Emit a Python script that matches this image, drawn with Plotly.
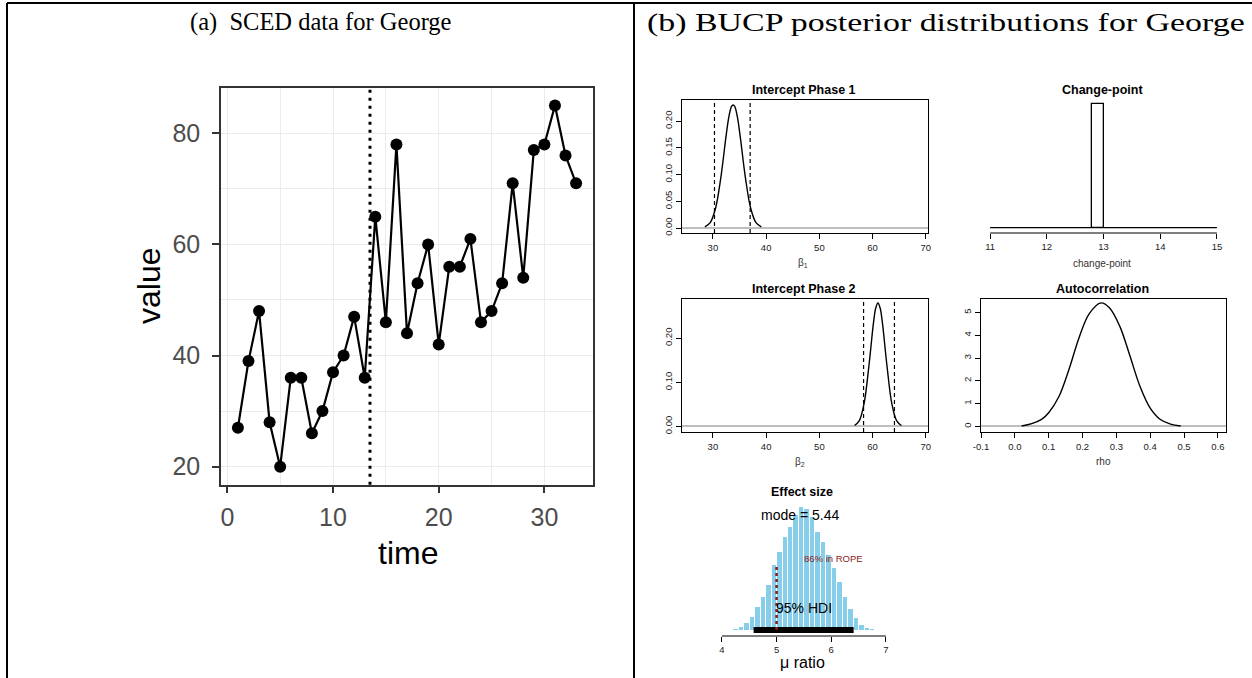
import plotly.graph_objects as go

W, H = 1252, 678

# ---------------- data ----------------
time = list(range(1, 34))
value = [27, 39, 48, 28, 20, 36, 36, 26, 30, 37, 40, 47, 36, 65, 46, 78, 44,
         53, 60, 42, 56, 56, 61, 46, 48, 53, 71, 54, 77, 78, 85, 76, 71]
phase_change = 13.5
a_xticks = [0, 10, 20, 30]
a_yticks = [20, 40, 60, 80]

b1_x = [28.5, 29.5, 30.5, 31.5, 32.5, 33.0, 33.5, 33.8, 34.1, 34.6, 35.1, 36.1, 37.1, 38.1, 39.1]
b1_d = [0.002, 0.010, 0.037, 0.095, 0.174, 0.208, 0.228, 0.2305, 0.228, 0.208, 0.174, 0.095, 0.037, 0.010, 0.002]
b1_hdi = [30.3, 37.0]

b2_x = [56.6, 57.5, 58.4, 59.3, 60.2, 60.6, 61.0, 61.4, 61.8, 62.7, 63.6, 64.5, 65.4]
b2_d = [0.002, 0.013, 0.052, 0.137, 0.239, 0.269, 0.280, 0.269, 0.239, 0.137, 0.052, 0.013, 0.002]
b2_hdi = [58.3, 64.1]
b_xticks = [30, 40, 50, 60, 70]
b1_yticks = [0.00, 0.05, 0.10, 0.15, 0.20]
b2_yticks = [0.00, 0.10, 0.20]

cp_center = [12.9]
cp_width = 0.2
cp_prob = [1.0]
cp_xticks = [11, 12, 13, 14, 15]

rho_x = [0.02, 0.05, 0.08, 0.10, 0.13, 0.16, 0.19, 0.22, 0.255, 0.28, 0.31, 0.34, 0.37, 0.40, 0.43, 0.46, 0.49]
rho_d = [0.02, 0.12, 0.32, 0.60, 1.30, 2.50, 3.90, 4.95, 5.42, 5.20, 4.40, 3.10, 1.75, 0.80, 0.30, 0.10, 0.02]
rho_xticks = [-0.1, 0.0, 0.1, 0.2, 0.3, 0.4, 0.5, 0.6]
rho_yticks = [0, 1, 2, 3, 4, 5]

es_mid = [4.25, 4.35, 4.45, 4.55, 4.65, 4.75, 4.85, 4.95, 5.05, 5.15, 5.25, 5.35, 5.45,
          5.55, 5.65, 5.75, 5.85, 5.95, 6.05, 6.15, 6.25, 6.35, 6.45, 6.55, 6.65, 6.75]
es_dens = [0.005, 0.024, 0.053, 0.096, 0.169, 0.241, 0.326, 0.470, 0.566, 0.671, 0.747, 0.832, 0.888,
           0.873, 0.820, 0.711, 0.639, 0.543, 0.446, 0.349, 0.241, 0.150, 0.085, 0.036, 0.017, 0.005]
es_mode = 5.44
es_hdi = [4.58, 6.41]
rope_lim = 5.0
rope_pct = 86
es_xticks = [4, 5, 6, 7]

# ---------------- helpers ----------------
def dx(a, b):
    return [a / W, b / W]

def dy(top, bottom):
    return [1 - bottom / H, 1 - top / H]

SANS = "Liberation Sans, Arial, sans-serif"
SERIF = "Liberation Serif, Times New Roman, serif"

fig = go.Figure()

# ---- (a) SCED data ----
fig.add_trace(go.Scatter(x=time, y=value, mode="lines+markers",
                         line=dict(color="black", width=2.2),
                         marker=dict(color="black", size=12),
                         xaxis="x", yaxis="y", showlegend=False))

# ---- (b) intercept phase 1 ----
fig.add_trace(go.Scatter(x=b1_x, y=b1_d, mode="lines", line=dict(color="black", width=1.4, shape="spline"),
                         xaxis="x2", yaxis="y2", showlegend=False))
# ---- change-point ----
fig.add_trace(go.Bar(x=cp_center, y=cp_prob, width=cp_width,
                     marker=dict(color="white", line=dict(color="black", width=1.3)),
                     xaxis="x3", yaxis="y3", showlegend=False))
fig.add_trace(go.Scatter(x=[cp_xticks[0], cp_xticks[-1]], y=[0, 0], mode="lines",
                         line=dict(color="black", width=1.3),
                         xaxis="x3", yaxis="y3", showlegend=False))
# ---- intercept phase 2 ----
fig.add_trace(go.Scatter(x=b2_x, y=b2_d, mode="lines", line=dict(color="black", width=1.4, shape="spline"),
                         xaxis="x4", yaxis="y4", showlegend=False))
# ---- autocorrelation ----
fig.add_trace(go.Scatter(x=rho_x, y=rho_d, mode="lines", line=dict(color="black", width=1.4, shape="spline"),
                         xaxis="x5", yaxis="y5", showlegend=False))
# ---- effect size ----
fig.add_trace(go.Bar(x=es_mid, y=es_dens, width=0.082, marker=dict(color="#87CEEB", line=dict(width=0)),
                     xaxis="x6", yaxis="y6", showlegend=False))
fig.add_trace(go.Scatter(x=es_hdi, y=[0, 0], mode="lines", line=dict(color="black", width=6),
                         xaxis="x6", yaxis="y6", showlegend=False))
fig.add_trace(go.Scatter(x=[rope_lim, rope_lim], y=[0, 0.47], mode="lines",
                         line=dict(color="#8B1A1A", width=2.5, dash="3px,3px"),
                         xaxis="x6", yaxis="y6", showlegend=False))

# ---------------- axes ----------------
gg_tick = dict(size=25, color="#4D4D4D", family=SANS)
layout = dict(
    width=W, height=H, margin=dict(l=0, r=0, t=0, b=0, autoexpand=False),
    paper_bgcolor="white", plot_bgcolor="white",
    font=dict(family=SANS),
    bargap=0, barmode="overlay",
    xaxis=dict(domain=dx(221, 593), range=[-0.6, 34.6], tickvals=a_xticks, ticks="outside",
               ticklen=7, tickwidth=1.5, tickcolor="#333333", tickfont=gg_tick, ticklabelstandoff=3,
               showline=True, mirror=True, linecolor="#333333", linewidth=1.5,
               showgrid=True, gridcolor="#EBEBEB", gridwidth=1.2,
               minor=dict(tickvals=[5, 15, 25], showgrid=True, gridcolor="#EBEBEB", gridwidth=0.6, ticks=""),
               zeroline=False, anchor="y", automargin=False),
    yaxis=dict(domain=dy(87.5, 484.7), range=[16.75, 88.25], tickvals=a_yticks, ticks="outside",
               ticklen=7, tickwidth=1.5, tickcolor="#333333", tickfont=gg_tick, ticklabelstandoff=7,
               showline=True, mirror=True, linecolor="#333333", linewidth=1.5,
               showgrid=True, gridcolor="#EBEBEB", gridwidth=1.2,
               minor=dict(tickvals=[30, 50, 70], showgrid=True, gridcolor="#EBEBEB", gridwidth=0.6, ticks=""),
               zeroline=False, anchor="x", automargin=False),
)

r_tick = dict(size=9.5, color="#222222", family=SANS)

def r_axis(domain, rng, tickvals, ticktext, anchor, box=True, **kw):
    d = dict(domain=domain, range=rng, tickvals=tickvals, ticktext=ticktext, ticks="outside",
             ticklen=5, tickwidth=1, tickcolor="black", tickfont=r_tick,
             showline=box, mirror=box, linecolor="black", linewidth=1.2,
             showgrid=False, zeroline=False, anchor=anchor, automargin=False)
    d.update(kw)
    return d

xt_b = [str(v) for v in b_xticks]
COL1 = dx(682, 928)
COL2 = dx(981, 1226)
layout["xaxis2"] = r_axis(COL1, [24.2, 70.4], b_xticks, xt_b, "y2")
layout["yaxis2"] = r_axis(dy(100, 233), [-0.0093, 0.2398], b1_yticks, [f"{v:.2f}" for v in b1_yticks], "x2",
                          tickangle=-90, zeroline=True, zerolinecolor="#BEBEBE", zerolinewidth=1.5)
layout["xaxis3"] = r_axis(COL2, [10.84, 15.16], cp_xticks, [str(v) for v in cp_xticks], "y3", box=False)
layout["yaxis3"] = dict(domain=dy(100, 233), range=[-0.043, 1.032], visible=False, anchor="x3")
layout["xaxis4"] = r_axis(COL1, [24.2, 70.4], b_xticks, xt_b, "y4")
layout["yaxis4"] = r_axis(dy(299, 432), [-0.0127, 0.289], b2_yticks, [f"{v:.2f}" for v in b2_yticks], "x4",
                          tickangle=-90, zeroline=True, zerolinecolor="#BEBEBE", zerolinewidth=1.5)
layout["xaxis5"] = r_axis(COL2, [-0.1, 0.624], rho_xticks, [f"{v:.1f}" for v in rho_xticks], "y5")
layout["yaxis5"] = r_axis(dy(299, 432), [-0.246, 5.59], rho_yticks, [str(v) for v in rho_yticks], "x5",
                          tickangle=-90, zeroline=True, zerolinecolor="#BEBEBE", zerolinewidth=1.5)
layout["xaxis6"] = r_axis(COL1, [3.27, 7.77], es_xticks, [str(v) for v in es_xticks], "y6", box=False)
layout["yaxis6"] = dict(domain=dy(490, 636), range=[-0.0434, 1.0127], visible=False, anchor="x6")

# ---------------- shapes ----------------
shapes = []
# table borders
for (x0, y0, x1, y1) in [(7, 3, W, 3), (7, 3, 7, H), (634, 3, 634, H)]:
    shapes.append(dict(type="line", xref="paper", yref="paper", x0=x0 / W, x1=x1 / W,
                       y0=1 - y0 / H, y1=1 - y1 / H, line=dict(color="black", width=2)))
# phase change line
shapes.append(dict(type="line", xref="x", yref="y domain", x0=phase_change, x1=phase_change, y0=0, y1=1,
                   line=dict(color="black", width=3, dash="3px,5px")))
# HDI dashed lines
for v in b1_hdi:
    shapes.append(dict(type="line", xref="x2", yref="y2 domain", x0=v, x1=v, y0=0, y1=1,
                       line=dict(color="black", width=1.2, dash="4px,3px")))
for v in b2_hdi:
    shapes.append(dict(type="line", xref="x4", yref="y4 domain", x0=v, x1=v, y0=0, y1=1,
                       line=dict(color="black", width=1.2, dash="4px,3px")))
# R-style axis lines spanning first-last tick
shapes.append(dict(type="line", xref="x3", yref="y3 domain", x0=cp_xticks[0], x1=cp_xticks[-1], y0=0, y1=0,
                   line=dict(color="black", width=1.2)))
shapes.append(dict(type="line", xref="x6", yref="y6 domain", x0=es_xticks[0], x1=es_xticks[-1], y0=0, y1=0,
                   line=dict(color="black", width=1.2)))
layout["shapes"] = shapes

# ---------------- annotations ----------------
def ann(text, x, y, size, color="black", family=SANS, angle=0, xanchor="center"):
    return dict(text=text, x=x / W, y=1 - y / H, xref="paper", yref="paper", showarrow=False,
                font=dict(size=size, color=color, family=family), textangle=angle,
                xanchor=xanchor, yanchor="middle")

anns = [
    ann("(a)  SCED data for George", 321, 22, 24.5, family=SERIF),
    ann("(b) BUCP posterior distributions for George", 946, 22, 25.5, family=SERIF),
    ann("time", 408, 553, 32),
    ann("value", 149, 286, 32, angle=-90),
    ann("<b>Intercept Phase 1</b>", 804, 90, 12.5),
    ann("<b>Change-point</b>", 1102, 90, 12.5),
    ann("<b>Intercept Phase 2</b>", 804, 289, 12.5),
    ann("<b>Autocorrelation</b>", 1102, 289, 12.5),
    ann("<b>Effect size</b>", 802, 492, 12.5),
    ann("β<sub>1</sub>", 803, 263, 10, color="#333333"),
    ann("change-point", 1102, 263, 10, color="#333333"),
    ann("β<sub>2</sub>", 800, 462, 10, color="#333333"),
    ann("rho", 1103, 462, 10, color="#333333"),
    ann("μ ratio", 802, 662, 16),
]
layout["annotations"] = anns
fig.update_layout(**layout)

# data-anchored texts in effect-size panel
fig.add_annotation(text=f"mode = {es_mode}", x=es_mode - 0.01, y=0.832, xref="x6", yref="y6", showarrow=False,
                   font=dict(size=14, color="black", family=SANS))
fig.add_annotation(text=f"{rope_pct}% in ROPE", x=5.47, y=0.514, xref="x6", yref="y6", showarrow=False,
                   xanchor="left", font=dict(size=9.5, color="#8B1A1A", family=SANS))
fig.add_annotation(text="95% HDI", x=(es_hdi[0] + es_hdi[1]) / 2, y=0.159, xref="x6", yref="y6", showarrow=False,
                   font=dict(size=14, color="black", family=SANS))

# the (b) heading in the source is stretched across the whole right cell
post = """
document.body.style.margin='0';
document.body.style.overflow='hidden';
document.querySelectorAll('text.annotation-text').forEach(function(t){
  if (t.textContent.indexOf('(b) BUCP') === 0) {
    var w = t.getBBox().width;
    var s = 598 / w;
    t.style.transformBox = 'fill-box';
    t.style.transformOrigin = 'center';
    t.style.transform = 'scaleX(' + s + ')';
  }
});
"""
fig.write_html("out.html", config={"displayModeBar": False}, post_script=post)
